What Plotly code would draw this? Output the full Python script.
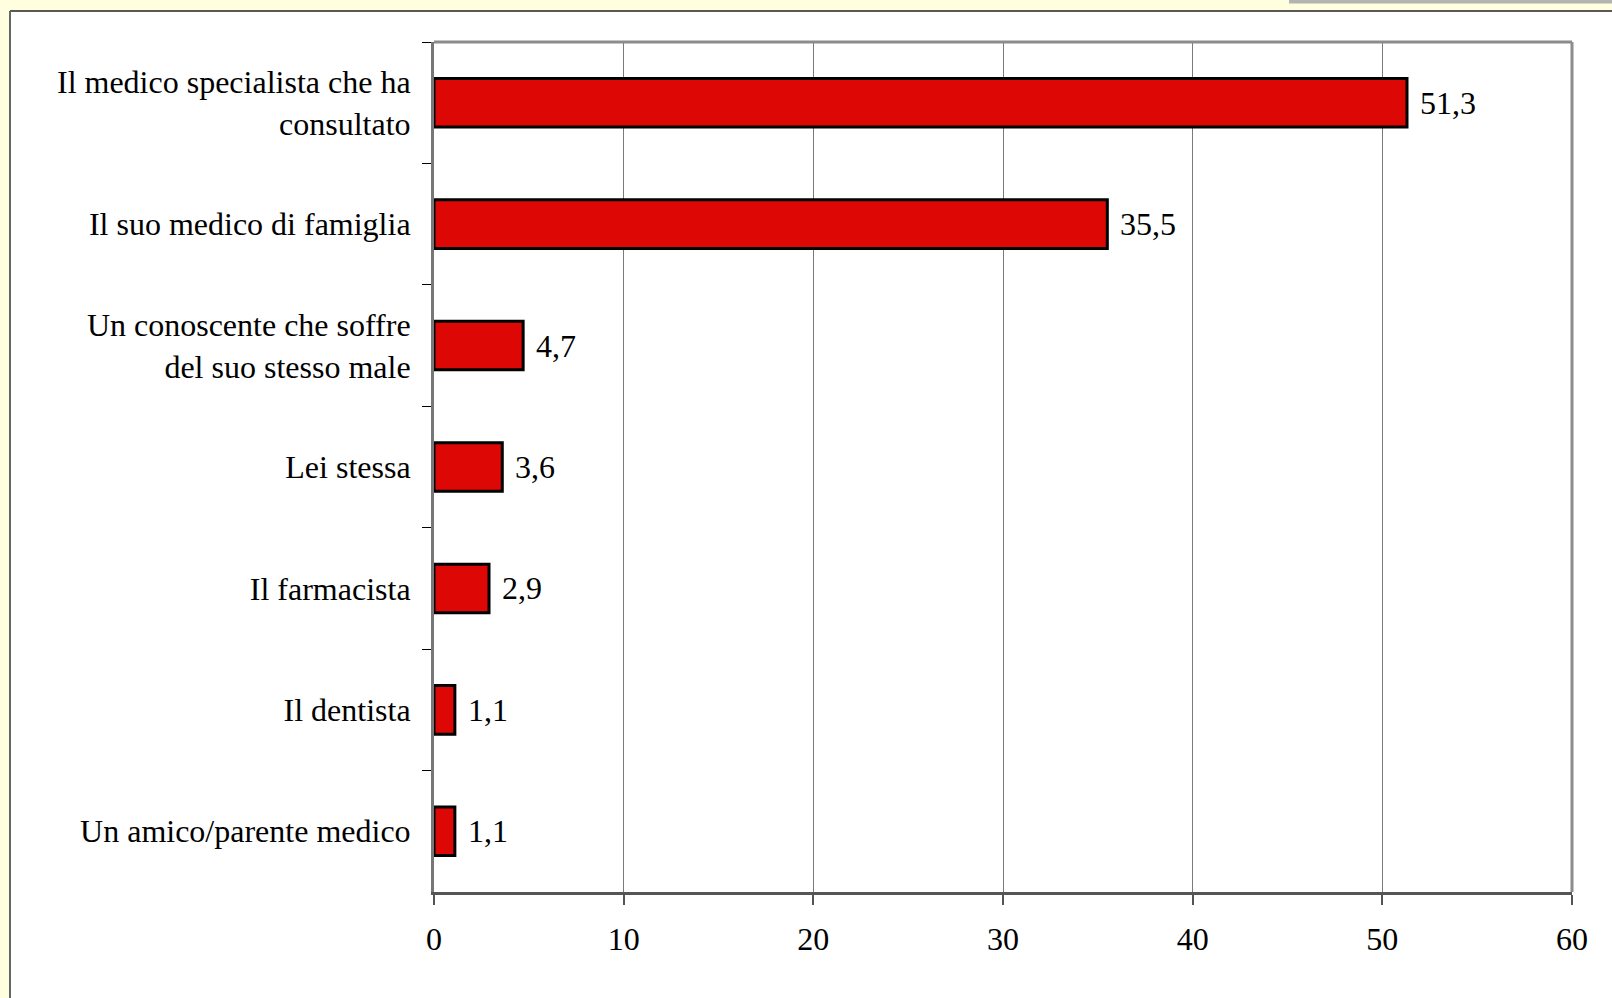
import plotly.graph_objects as go

# Risposte (valori percentuali)
categories = [
    "Il medico specialista che ha<br>consultato",
    "Il suo medico di famiglia",
    "Un conoscente che soffre<br>del suo stesso male",
    "Lei stessa",
    "Il farmacista",
    "Il dentista",
    "Un amico/parente medico",
]
values = [51.3, 35.5, 4.7, 3.6, 2.9, 1.1, 1.1]
x_ticks = [0, 10, 20, 30, 40, 50, 60]

W, H = 1612, 998
L, R, T, B = 434, 40, 42, 106
pw, ph = W - L - R, H - T - B


def px_x(p):
    return (p - L) / pw


def px_y(p):
    return (H - B - p) / ph


FONT = "Liberation Serif, DejaVu Serif, serif"
FS = 32

fig = go.Figure()
fig.add_trace(go.Bar(
    x=values,
    y=categories,
    orientation="h",
    marker=dict(color="#DD0806", line=dict(color="#000000", width=3)),
    width=0.4,
    hoverinfo="skip",
))

for v, c in zip(values, categories):
    fig.add_annotation(
        x=v, y=c, xref="x", yref="y",
        text=f"{v:.1f}".replace(".", ","),
        showarrow=False, xanchor="left", xshift=11,
        font=dict(family=FONT, size=FS, color="#000000"),
    )

shapes = [
    # pannello bianco
    dict(type="rect", xref="paper", yref="paper", layer="below",
         x0=px_x(10), x1=px_x(W + 5), y0=px_y(H + 5), y1=px_y(11),
         fillcolor="#FFFFFF", line=dict(width=0)),
    dict(type="line", xref="paper", yref="paper",
         x0=px_x(10), x1=px_x(W + 5), y0=px_y(11), y1=px_y(11),
         line=dict(color="#222222", width=1.5)),
    dict(type="line", xref="paper", yref="paper",
         x0=px_x(10), x1=px_x(10), y0=px_y(11), y1=px_y(H + 5),
         line=dict(color="#666666", width=2)),
    # barra grigia in alto a destra
    dict(type="rect", xref="paper", yref="paper",
         x0=px_x(1289), x1=px_x(W + 5), y0=px_y(3.5), y1=px_y(-5),
         fillcolor="#B3B3B3", line=dict(width=0)),
    # cornice area del grafico
    dict(type="line", xref="paper", yref="paper", x0=0, x1=1, y0=1, y1=1,
         line=dict(color="#8C8C8C", width=3)),
    dict(type="line", xref="paper", yref="paper", x0=1, x1=1, y0=0, y1=1,
         line=dict(color="#8C8C8C", width=3)),
]

fig.update_layout(
    width=W, height=H,
    margin=dict(l=L, r=R, t=T, b=B, pad=0),
    paper_bgcolor="#FFFFDF",
    plot_bgcolor="#FFFFFF",
    showlegend=False,
    bargap=0.6,
    separators=",.",
    font=dict(family=FONT, size=FS, color="#000000"),
    shapes=shapes,
    xaxis=dict(
        range=[0, 60], tickvals=x_ticks, ticktext=[str(t) for t in x_ticks],
        showgrid=True, gridcolor="#7A7A7A", gridwidth=1.2,
        showline=True, linecolor="#555555", linewidth=2.5,
        ticks="outside", ticklen=10, tickcolor="#555555", tickwidth=1.5,
        ticklabelstandoff=7,
        tickfont=dict(family=FONT, size=FS, color="#000000"),
        zeroline=False, fixedrange=True,
    ),
    yaxis=dict(
        autorange="reversed", type="category",
        showgrid=False, zeroline=False,
        showline=True, linecolor="#777777", linewidth=3,
        ticks="outside", tickson="boundaries", ticklen=9,
        tickcolor="#000000", tickwidth=1.2,
        ticklabelstandoff=14,
        tickfont=dict(family=FONT, size=FS, color="#000000"),
        fixedrange=True,
    ),
)

fig.write_html("out.html")
